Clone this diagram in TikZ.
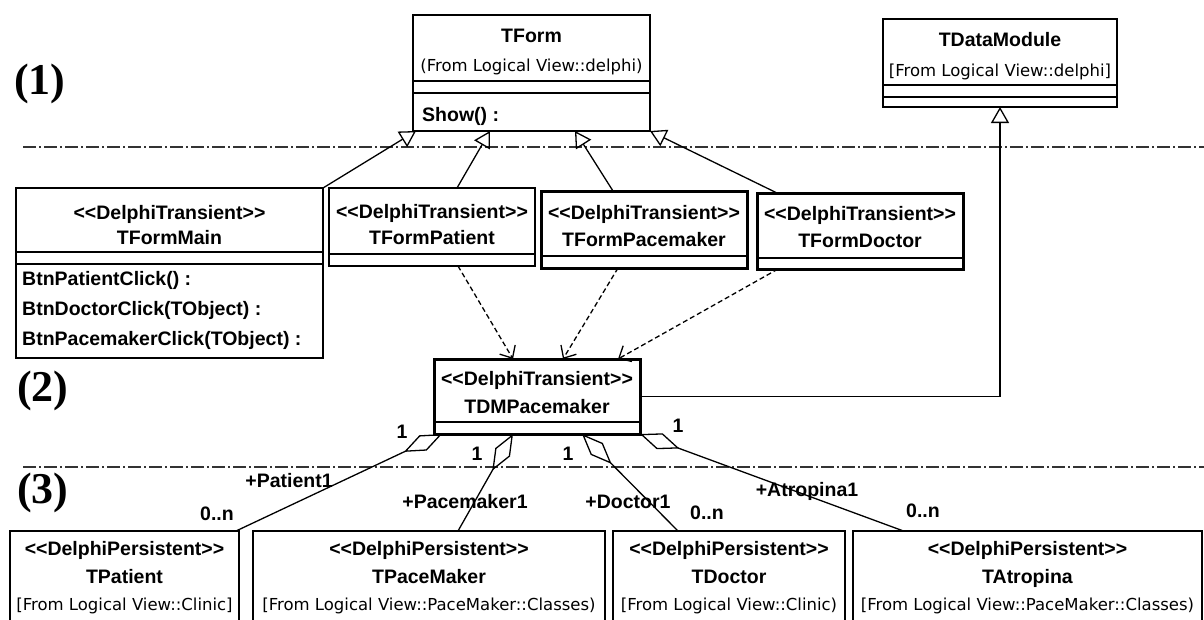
\documentclass[tikz,border=0pt]{standalone}
\usepackage{fontspec}
\setmainfont{Liberation Sans}
\newfontfamily\viewfont{DejaVu Sans}
\newfontfamily\bandfont{Liberation Serif}
\usetikzlibrary{arrows.meta,calc}

% stereotype brackets typed without ligatures
\newcommand{\stereo}[1]{<{}<#1>{}>}

\begin{document}
\begin{tikzpicture}[x=1pt,y=-1pt,
  box/.style={draw=black, line width=2.4pt, anchor=north west, inner sep=0pt, outer sep=0pt},
  heavybox/.style={box, line width=3pt},
  nm/.style={font=\bfseries\fontsize{19.5}{20}\selectfont, anchor=base, inner sep=0pt},
  view/.style={font=\viewfont\fontsize{16.5}{17}\selectfont, anchor=base, inner sep=0pt},
  op/.style={nm, anchor=base west},
  band/.style={font=\bandfont\bfseries\fontsize{44}{44}\selectfont, inner sep=0pt},
  sep/.style={draw=black!80, line width=1.6pt, dash pattern=on 13pt off 3pt on 2pt off 3pt},
  cmp/.style={line width=2pt},
  gen/.style={line width=1.3pt, -{Triangle[open, length=16pt, width=18pt, line width=1.3pt]}},
  dep/.style={line width=1.3pt, dash pattern=on 5pt off 3pt, -{Straight Barb[length=10pt, width=18pt, line width=1.3pt]}},
  agg/.style={line width=1.3pt, {Diamond[open, length=42pt, width=17pt, line width=1.3pt]}-}
]
\fill[white] (0,0) rectangle (1204,619);
\useasboundingbox (0,0) rectangle (1204,619);

% layer separators
\draw[sep] (23,147) -- (1204,147);
\draw[sep] (23,467) -- (1204,467);

% layer labels
\node[band] (l1) at (40,84) {(1)};
\node[band] (l2) at (43,391) {(2)};
\node[band] (l3) at (43,493) {(3)};

% ---- layer 1: framework classes
\node[box, minimum width=237pt, minimum height=116pt] (tform) at (413,15) {};
\node[nm] (tformN) at ($(tform.north)+(0,27)$) {TForm};
\node[view] (tformV) at ($(tform.north)+(0,56)$) {(From Logical View::delphi)};
\draw[cmp] ($(tform.north west)+(0,66)$) -- ($(tform.north east)+(0,66)$);
\draw[cmp] ($(tform.north west)+(0,78)$) -- ($(tform.north east)+(0,78)$);
\node[op] (tformO) at ($(tform.north west)+(9,106)$) {Show() :};

\node[box, minimum width=234pt, minimum height=88pt] (tdmod) at (883,19) {};
\node[nm] (tdmodN) at ($(tdmod.north)+(0,27)$) {TDataModule};
\node[view] (tdmodV) at ($(tdmod.north)+(0,57)$) {[From Logical View::delphi]};
\draw[cmp] ($(tdmod.north west)+(0,66)$) -- ($(tdmod.north east)+(0,66)$);
\draw[cmp] ($(tdmod.north west)+(0,78)$) -- ($(tdmod.north east)+(0,78)$);

% ---- layer 2: forms and data module
\node[box, minimum width=307pt, minimum height=170pt] (fmain) at (16,188) {};
\node[nm] (fmainS) at ($(fmain.north)+(0,31)$) {\stereo{DelphiTransient}};
\node[nm] (fmainN) at ($(fmain.north)+(0,56)$) {TFormMain};
\draw[cmp] ($(fmain.north west)+(0,64)$) -- ($(fmain.north east)+(0,64)$);
\draw[cmp] ($(fmain.north west)+(0,76)$) -- ($(fmain.north east)+(0,76)$);
\node[op] (fmainO1) at ($(fmain.north west)+(6,97)$) {BtnPatientClick() :};
\node[op] (fmainO2) at ($(fmain.north west)+(6,127)$) {BtnDoctorClick(TObject) :};
\node[op] (fmainO3) at ($(fmain.north west)+(6,157)$) {BtnPacemakerClick(TObject) :};

\node[box, minimum width=206pt, minimum height=78pt] (fpat) at (329,188) {};
\node[nm] (fpatS) at ($(fpat.north)+(0,30)$) {\stereo{DelphiTransient}};
\node[nm] (fpatN) at ($(fpat.north)+(0,56)$) {TFormPatient};
\draw[cmp] ($(fpat.north west)+(0,66)$) -- ($(fpat.north east)+(0,66)$);

\node[heavybox, minimum width=206pt, minimum height=77pt] (fpace) at (541,191) {};
\node[nm] (fpaceS) at ($(fpace.north)+(0,28)$) {\stereo{DelphiTransient}};
\node[nm] (fpaceN) at ($(fpace.north)+(0,55)$) {TFormPacemaker};
\draw[cmp] ($(fpace.north west)+(0,65)$) -- ($(fpace.north east)+(0,65)$);

\node[heavybox, minimum width=206pt, minimum height=76pt] (fdoc) at (757,193) {};
\node[nm] (fdocS) at ($(fdoc.north)+(0,27)$) {\stereo{DelphiTransient}};
\node[nm] (fdocN) at ($(fdoc.north)+(0,54)$) {TFormDoctor};
\draw[cmp] ($(fdoc.north west)+(0,65)$) -- ($(fdoc.north east)+(0,65)$);

\node[heavybox, minimum width=206pt, minimum height=75pt] (tdm) at (434,359) {};
\node[nm] (tdmS) at ($(tdm.north)+(0,26)$) {\stereo{DelphiTransient}};
\node[nm] (tdmN) at ($(tdm.north)+(0,54)$) {TDMPacemaker};
\draw[cmp] ($(tdm.north west)+(0,63)$) -- ($(tdm.north east)+(0,63)$);

% ---- layer 3: persistent classes
\node[box, minimum width=229pt, minimum height=110pt] (tpat) at (10,531) {};
\node[nm] (tpatS) at ($(tpat.north)+(0,24)$) {\stereo{DelphiPersistent}};
\node[nm] (tpatN) at ($(tpat.north)+(0,52)$) {TPatient};
\node[view] (tpatV) at ($(tpat.north)+(0,79)$) {[From Logical View::Clinic]};

\node[box, minimum width=352pt, minimum height=110pt] (tpm) at (253,531) {};
\node[nm] (tpmS) at ($(tpm.north)+(0,24)$) {\stereo{DelphiPersistent}};
\node[nm] (tpmN) at ($(tpm.north)+(0,52)$) {TPaceMaker};
\node[view] (tpmV) at ($(tpm.north)+(0,79)$) {[From Logical View::PaceMaker::Classes)};

\node[box, minimum width=232pt, minimum height=110pt] (tdoc) at (613,531) {};
\node[nm] (tdocS) at ($(tdoc.north)+(0,24)$) {\stereo{DelphiPersistent}};
\node[nm] (tdocN) at ($(tdoc.north)+(0,52)$) {TDoctor};
\node[view] (tdocV) at ($(tdoc.north)+(0,79)$) {[From Logical View::Clinic)};

\node[box, minimum width=349pt, minimum height=110pt] (tatr) at (853,531) {};
\node[nm] (tatrS) at ($(tatr.north)+(0,24)$) {\stereo{DelphiPersistent}};
\node[nm] (tatrN) at ($(tatr.north)+(0,52)$) {TAtropina};
\node[view] (tatrV) at ($(tatr.north)+(0,79)$) {[From Logical View::PaceMaker::Classes)};

% ---- generalisations
\draw[gen] (fmain.north east) -- ($(tform.south west)+(3,0)$);
\draw[gen] ($(fpat.north)+(25,0)$) -- ($(tform.south west)+(77,0)$);
\draw[gen] ($(fpace.north)+(-31,0)$) -- ($(tform.south west)+(162,0)$);
\draw[gen] ($(fdoc.north)+(-83,0)$) -- (tform.south east);
\draw[gen] (tdm.east) -| (tdmod.south);

% ---- dependencies
\draw[dep] ($(fpat.south)+(26,0)$) -- ($(tdm.north)+(-24,0)$);
\draw[dep] ($(fpace.south)+(-26,0)$) -- ($(tdm.north)+(26,0)$);
\draw[dep] ($(fdoc.south)+(-82,0)$) -- ($(tdm.north)+(81,0)$);

% ---- aggregations
\draw[agg] ($(tdm.south west)+(8,0)$) -- ($(tpat.north east)+(-3,0)$);
\draw[agg] ($(tdm.south)+(-24,0)$) -- ($(tpm.north)+(29,0)$);
\draw[agg] ($(tdm.south)+(45,0)$) -- ($(tdoc.north)+(-51,0)$);
\draw[agg] (tdm.south east) -- ($(tatr.north)+(-124,0)$);

% ---- role names and multiplicities
\node[nm] (m1a) at (402,438) {1};
\node[nm] (r1) at (289,487) {+Patient1};
\node[nm] (n1) at (217,520) {0..n};
\node[nm] (m2a) at (477,460) {1};
\node[nm] (r2) at (465,508) {+Pacemaker1};
\node[nm] (m3a) at (568,460) {1};
\node[nm] (r3) at (628,508) {+Doctor1};
\node[nm] (n3) at (707,519) {0..n};
\node[nm] (m4a) at (678,432) {1};
\node[nm] (r4) at (807,496) {+Atropina1};
\node[nm] (n4) at (923,517) {0..n};
\end{tikzpicture}
\end{document}
